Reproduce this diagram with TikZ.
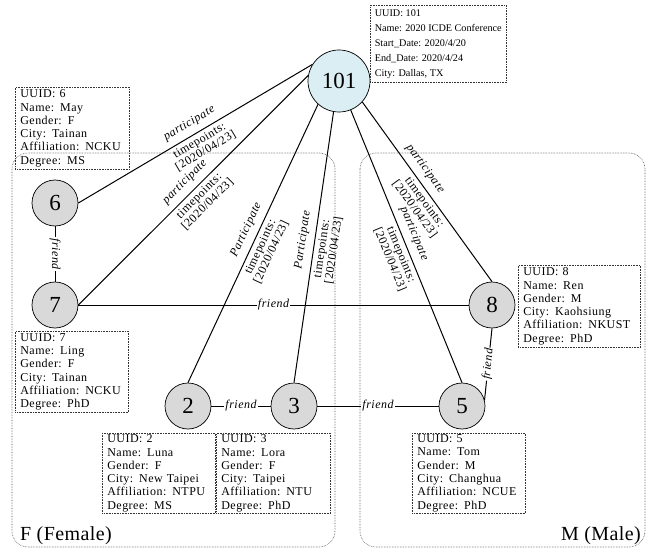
\documentclass[tikz,border=0pt]{standalone}
\usepackage{fontspec}
\setmainfont{Liberation Serif}
\newfontfamily\spacedserif[LetterSpace=4]{Liberation Serif}
\newfontfamily\wideserif[LetterSpace=2]{Liberation Serif}
\definecolor{vgray}{RGB}{217,217,217}
\definecolor{hubblue}{RGB}{218,238,243}
\newcommand\tptext{timepoints:\\{[2020/04/23]}}
\begin{document}
\begin{tikzpicture}[x=1pt,y=-1pt,
  vertex/.style={circle, draw=black, line width=0.7pt, fill=vgray, minimum size=46pt,
    inner sep=0pt, font=\fontsize{23}{23}\selectfont\rmfamily},
  hub/.style={vertex, fill=hubblue, minimum size=62pt},
  infobox/.style={draw=black!80, densely dotted, line width=0.6pt, anchor=north west,
    align=left, inner xsep=5pt, inner ysep=0pt,
    font=\fontsize{12}{13.3}\selectfont\spacedserif},
  link/.style={line width=1pt},
  act/.style={sloped, above=6pt, inner sep=0pt,
    font=\fontsize{12}{12}\selectfont\spacedserif\itshape},
  tp/.style={sloped, below=3pt, inner sep=0pt, align=center,
    font=\fontsize{12}{12}\selectfont\spacedserif},
  rel/.style={fill=white, inner sep=1pt,
    font=\fontsize{12}{12}\selectfont\spacedserif\itshape},
  group/.style={draw=black!70, densely dotted, line width=0.6pt, rounded corners=16pt},
  grouplabel/.style={font=\fontsize{20}{20}\selectfont\wideserif, inner sep=0pt}
]
\useasboundingbox (0,0) rectangle (648,548);

% gender groups
\draw[group] (12,153) rectangle (335,547);
\draw[group] (360,153) rectangle (645,547);
\node[grouplabel, anchor=base west] (flabel) at (20,540) {F (Female)};
\node[grouplabel, anchor=base east] (mlabel) at (641,540) {M (Male)};

% conference and people
\node[hub] (n101) at (339,81) {101};
\node[vertex] (n6) at (55,203) {6};
\node[vertex] (n7) at (55,305) {7};
\node[vertex] (n8) at (492,305) {8};
\node[vertex] (n2) at (188,406) {2};
\node[vertex] (n3) at (294,406) {3};
\node[vertex] (n5) at (462,406) {5};

% attribute boxes
\node[infobox, minimum height=77pt, inner xsep=4.5pt, font=\fontsize{10.2}{15}\selectfont\rmfamily]
  (i101) at (370,5) {UUID: 101\\Name: 2020 ICDE Conference\\Start\_Date: 2020/4/20\\End\_Date: 2020/4/24\\City: Dallas, TX};
\node[infobox, text width=104pt, minimum height=82pt] (i6) at (15,87)
  {UUID: 6\\Name: May\\Gender: F\\City: Tainan\\Affiliation: NCKU\\Degree: MS};
\node[infobox, text width=103pt, minimum height=81pt] (i7) at (15,331)
  {UUID: 7\\Name: Ling\\Gender: F\\City: Tainan\\Affiliation: NCKU\\Degree: PhD};
\node[infobox, text width=112pt, minimum height=82pt] (i8) at (518,265)
  {UUID: 8\\Name: Ren\\Gender: M\\City: Kaohsiung\\Affiliation: NKUST\\Degree: PhD};
\node[infobox, text width=103pt, minimum height=80pt] (i2) at (102,433)
  {UUID: 2\\Name: Luna\\Gender: F\\City: New Taipei\\Affiliation: NTPU\\Degree: MS};
\node[infobox, text width=104pt, minimum height=80pt] (i3) at (216,433)
  {UUID: 3\\Name: Lora\\Gender: F\\City: Taipei\\Affiliation: NTU\\Degree: PhD};
\node[infobox, text width=103pt, minimum height=80pt] (i5) at (412,433)
  {UUID: 5\\Name: Tom\\Gender: M\\City: Changhua\\Affiliation: NCUE\\Degree: PhD};

% participation edges
\draw[link] (n101.148) -- node[act, pos=0.5] {participate} node[tp, pos=0.5] {\tptext} (n6.east);
\draw[link] (n101.170) -- node[act, pos=0.5] {participate} node[tp, pos=0.5] {\tptext} (n7.east);
\draw[link] (n101.228) -- node[act, pos=0.47] {Participate} node[tp, pos=0.5] {\tptext} (n2.north);
\draw[link] (n101.260) -- node[act, pos=0.48] {Participate} node[tp, pos=0.5] {\tptext} (n3.north);
\draw[link] (n101.292) -- node[act, pos=0.47] {participate} node[tp, pos=0.52] {\tptext} (n5.north);
\draw[link] (n101.318) -- node[act, pos=0.41] {participate} node[tp, pos=0.53] {\tptext} (n8.north);

% friendship edges
\draw[link] (n6) -- node[rel, rotate=-90] {friend} (n7);
\draw[link] (n7) -- node[rel] {friend} (n8);
\draw[link] (n2) -- node[rel] {friend} (n3);
\draw[link] (n3) -- node[rel] {friend} (n5);
\draw[link] (n5.15) -- node[rel, sloped] {friend} (n8.south);
\end{tikzpicture}
\end{document}
